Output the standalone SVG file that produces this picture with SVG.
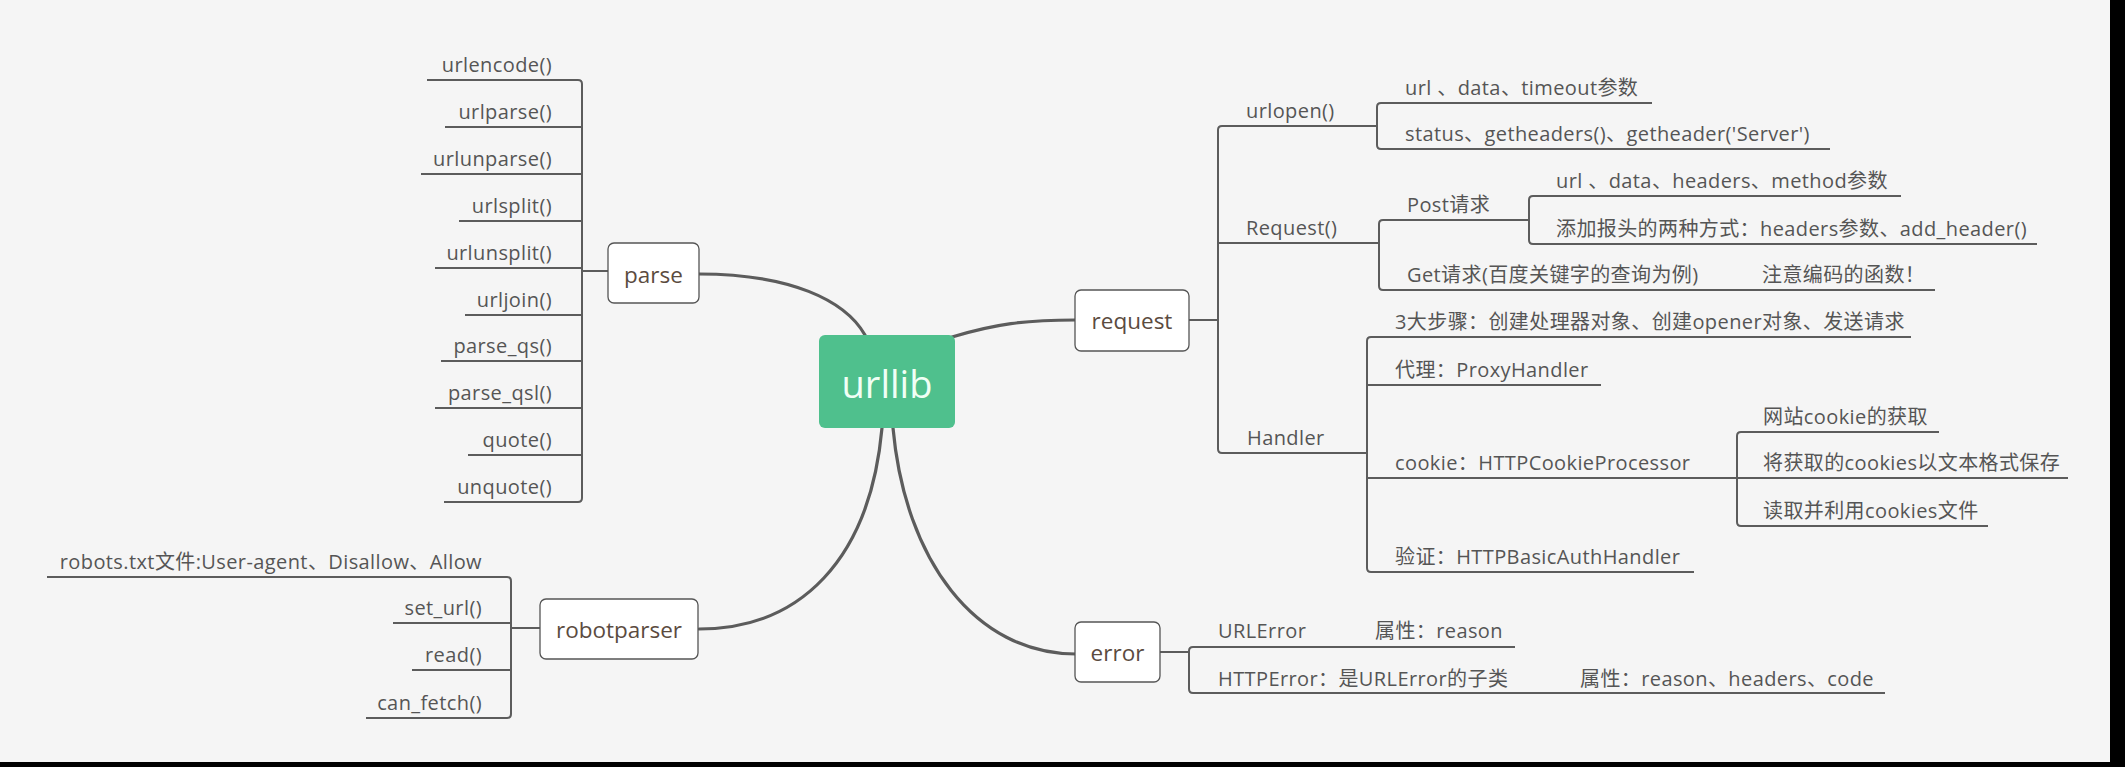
<svg xmlns="http://www.w3.org/2000/svg" width="2125" height="767" viewBox="0 0 2125 767">
<style>
.t{font-family:"Open Sans","Noto Sans CJK SC",sans-serif;font-size:20px;fill:#555;letter-spacing:0.4px}
.te{text-anchor:end}
.n{fill:#fff;stroke:#555;stroke-width:1.3}
.nt{font-family:"Open Sans","Noto Sans CJK SC",sans-serif;font-size:22.5px;fill:#5b4b3f;text-anchor:middle}
.l{fill:none;stroke:#5c5c5c;stroke-width:2}
.c{fill:none;stroke:#5c5c5c;stroke-width:3.2;stroke-linecap:round}
</style>
<rect x="0" y="0" width="2125" height="767" fill="#000"/>
<rect x="0" y="0" width="2110" height="762" fill="#f5f5f5"/>
<g id="connectors">
<path class="c" d="M699,274 C790,274 845,300 865,335"/>
<path class="c" d="M952,337 C995,324 1025,320 1075,320"/>
<path class="c" d="M882,428 C870,560 800,629 699,629"/>
<path class="c" d="M893,428 C905,560 975,654 1076,654"/>
<path class="l" d="M582,271 H608"/>
<path class="l" d="M427,80 H578 Q582,80 582,84 V498 Q582,502 578,502 H444"/>
<path class="l" d="M445,127 H582 M421,174 H582 M459,221 H582 M435,268 H582 M465,315 H582 M441,361 H582 M435,408 H582 M468,455 H582"/>
<path class="l" d="M511,628 H540"/>
<path class="l" d="M47,577 H507 Q511,577 511,581 V714 Q511,718 507,718 H366"/>
<path class="l" d="M393,623 H511 M412,670 H511"/>
<path class="l" d="M1189,320 H1218"/>
<path class="l" d="M1377,126 H1222 Q1218,126 1218,130 V449 Q1218,453 1222,453 H1367"/>
<path class="l" d="M1218,243 H1379"/>
<path class="l" d="M1652,103 H1381 Q1377,103 1377,107 V145 Q1377,149 1381,149 H1830"/>
<path class="l" d="M1529,220 H1383 Q1379,220 1379,224 V286 Q1379,290 1383,290 H1935"/>
<path class="l" d="M1901,196 H1533 Q1529,196 1529,200 V240 Q1529,244 1533,244 H2037"/>
<path class="l" d="M1911,337 H1371 Q1367,337 1367,341 V568 Q1367,572 1371,572 H1694"/>
<path class="l" d="M1367,385 H1601 M1367,478 H1737"/>
<path class="l" d="M1939,432 H1741 Q1737,432 1737,436 V522 Q1737,526 1741,526 H1988"/>
<path class="l" d="M1737,478 H2068"/>
<path class="l" d="M1160,652 H1189"/>
<path class="l" d="M1515,647 H1193 Q1189,647 1189,651 V689 Q1189,693 1193,693 H1885"/>
</g>
<g id="urllib">
<rect x="819" y="335" width="136" height="93" rx="6" fill="#4fc08d"/>
<text x="887" y="398" font-family="Open Sans, sans-serif" font-size="38" fill="#f0fff5" text-anchor="middle">urllib</text>
</g>
<g id="parse">
<rect class="n" x="608" y="243" width="91" height="60" rx="6"/>
<text class="nt" x="653.5" y="283">parse</text>
</g>
<g id="parse-children">
<text class="t te" x="552" y="72">urlencode()</text>
<text class="t te" x="552" y="119">urlparse()</text>
<text class="t te" x="552" y="166">urlunparse()</text>
<text class="t te" x="552" y="213">urlsplit()</text>
<text class="t te" x="552" y="260">urlunsplit()</text>
<text class="t te" x="552" y="307">urljoin()</text>
<text class="t te" x="552" y="353">parse_qs()</text>
<text class="t te" x="552" y="400">parse_qsl()</text>
<text class="t te" x="552" y="447">quote()</text>
<text class="t te" x="552" y="494">unquote()</text>
</g>
<g id="robotparser">
<rect class="n" x="540" y="599" width="158" height="60" rx="6"/>
<text class="nt" x="619" y="638">robotparser</text>
</g>
<g id="robotparser-children">
<text class="t te" x="482" y="569">robots.txt文件:User-agent、Disallow、Allow</text>
<text class="t te" x="482" y="615">set_url()</text>
<text class="t te" x="482" y="662">read()</text>
<text class="t te" x="482" y="710">can_fetch()</text>
</g>
<g id="request">
<rect class="n" x="1075" y="290" width="114" height="61" rx="6"/>
<text class="nt" x="1132" y="329">request</text>
</g>
<g id="request-children">
<text class="t" x="1246" y="118">urlopen()</text>
<text class="t" x="1405" y="95">url 、data、timeout参数</text>
<text class="t" x="1405" y="141">status、getheaders()、getheader('Server')</text>
<text class="t" x="1246" y="235">Request()</text>
<text class="t" x="1407" y="212">Post请求</text>
<text class="t" x="1556" y="188">url 、data、headers、method参数</text>
<text class="t" x="1556" y="236">添加报头的两种方式：headers参数、add_header()</text>
<text class="t" x="1407" y="282">Get请求(百度关键字的查询为例)</text>
<text class="t" x="1762" y="282">注意编码的函数！</text>
<text class="t" x="1247" y="445">Handler</text>
<text class="t" x="1395" y="329">3大步骤：创建处理器对象、创建opener对象、发送请求</text>
<text class="t" x="1395" y="377">代理：ProxyHandler</text>
<text class="t" x="1395" y="470">cookie：HTTPCookieProcessor</text>
<text class="t" x="1763" y="424">网站cookie的获取</text>
<text class="t" x="1763" y="470">将获取的cookies以文本格式保存</text>
<text class="t" x="1763" y="518">读取并利用cookies文件</text>
<text class="t" x="1395" y="564">验证：HTTPBasicAuthHandler</text>
</g>
<g id="error">
<rect class="n" x="1075" y="622" width="85" height="60" rx="6"/>
<text class="nt" x="1117.5" y="661">error</text>
</g>
<g id="error-children">
<text class="t" x="1218" y="638">URLError</text>
<text class="t" x="1375" y="638">属性：reason</text>
<text class="t" x="1218" y="686">HTTPError：是URLError的子类</text>
<text class="t" x="1580" y="686">属性：reason、headers、code</text>
</g>
</svg>
